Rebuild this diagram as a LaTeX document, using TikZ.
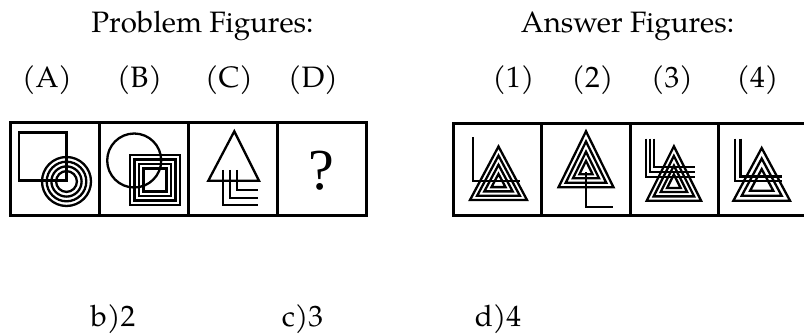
\documentclass[tikz,border=0pt]{standalone}
\usepackage{fontspec}
\setmainfont{TeX Gyre Pagella}
\newfontfamily\qfont{Liberation Serif}
\newcommand{\nestri}[5]{%
  \foreach \f in {#5} {
    \draw[fig, shift={(#1)}, scale=\f] (0,#3) -- (#2,#4) -- (-#2,#4) -- cycle;
  }}
\begin{document}
\begin{tikzpicture}[x=1pt,y=-1pt,
  fig/.style={line width=2.3pt, line join=miter},
  frame/.style={line width=3pt},
  lab/.style={anchor=base, inner sep=0pt, font=\fontsize{29.5}{32}\selectfont}]
\useasboundingbox (0,0) rectangle (804,334);
% headings
\node[lab] (tp) at (202.5,33) {Problem Figures:};
\node[lab] (ta) at (627.5,33) {Answer Figures:};
\node[lab] (lA) at (47,88) {(A)};
\node[lab] (lB) at (139.5,88) {(B)};
\node[lab] (lC) at (229,88) {(C)};
\node[lab] (lD) at (313,88) {(D)};
\node[lab] (l1) at (513.5,88) {(1)};
\node[lab] (l2) at (592.5,88) {(2)};
\node[lab] (l3) at (672,88) {(3)};
\node[lab] (l4) at (757.5,88) {(4)};
\node[lab] (ob) at (113,326) {b)2};
\node[lab] (oc) at (302.5,326) {c)3};
\node[lab] (od) at (498,326) {d)4};
% problem frame
\draw[frame] (10,122.5) rectangle (366,216);
\foreach \x in {99.5,188.5,277} \draw[frame] (\x,122.5) -- (\x,216);
% answer frame (right side cut off)
\draw[frame] (806,123.3) -- (453.3,123.3) -- (453.3,216) -- (806,216);
\foreach \x in {541,630.7,718.7} \draw[frame] (\x,123.3) -- (\x,216);
% (A)
\draw[fig] (19,132.5) rectangle (66.5,180.5);
\foreach \r in {24.5,19.8,15.1,10.4} \draw[fig] (66.5,181.5) circle[radius=\r];
% (B)
\draw[fig] (134.2,160.5) circle[radius=27];
\foreach \h in {25,20.5,16,11.5} \draw[fig] (155-\h,180-\h) rectangle (155+\h,180+\h);
% (C)
\draw[fig] (234.3,131.3) -- (259,180.7) -- (208.3,180.7) -- cycle;
\draw[fig] (223.3,170) -- (223.3,205.3) -- (258,205.3);
\draw[fig] (230,170) -- (230,197.8) -- (258,197.8);
\draw[fig] (236.7,170) -- (236.7,190) -- (258,190);
% (D)
\node[font=\qfont\fontsize{58}{62}\selectfont, inner sep=0pt] (q) at (321,171) {?};
% (1)
\nestri{498.5,182.9}{28.5}{-36.4}{17.1}{1,0.749,0.497,0.246}
\draw[fig] (472.7,137.3) -- (472.7,181.3) -- (520,181.3);
% (2)
\nestri{586,170.2}{27.5}{-38.9}{17.1}{1,0.737,0.474,0.24}
\draw[fig] (586,172) -- (586,207.3) -- (613.3,207.3);
% (3)
\nestri{673.9,183.9}{27.2}{-37.6}{16.8}{1,0.744,0.488,0.25}
\draw[fig] (645.7,138.7) -- (645.7,177.3) -- (695,177.3);
\draw[fig] (650,138.7) -- (650,172.3) -- (695,172.3);
\draw[fig] (654.3,138.7) -- (654.3,167.3) -- (695,167.3);
% (4)
\nestri{761.7,183.8}{28.3}{-35.8}{16.9}{1,0.705,0.409}
\draw[fig] (735,138.7) -- (735,181.3) -- (782,181.3);
\draw[fig] (740.5,138.7) -- (740.5,176.5) -- (782,176.5);
\end{tikzpicture}
\end{document}
